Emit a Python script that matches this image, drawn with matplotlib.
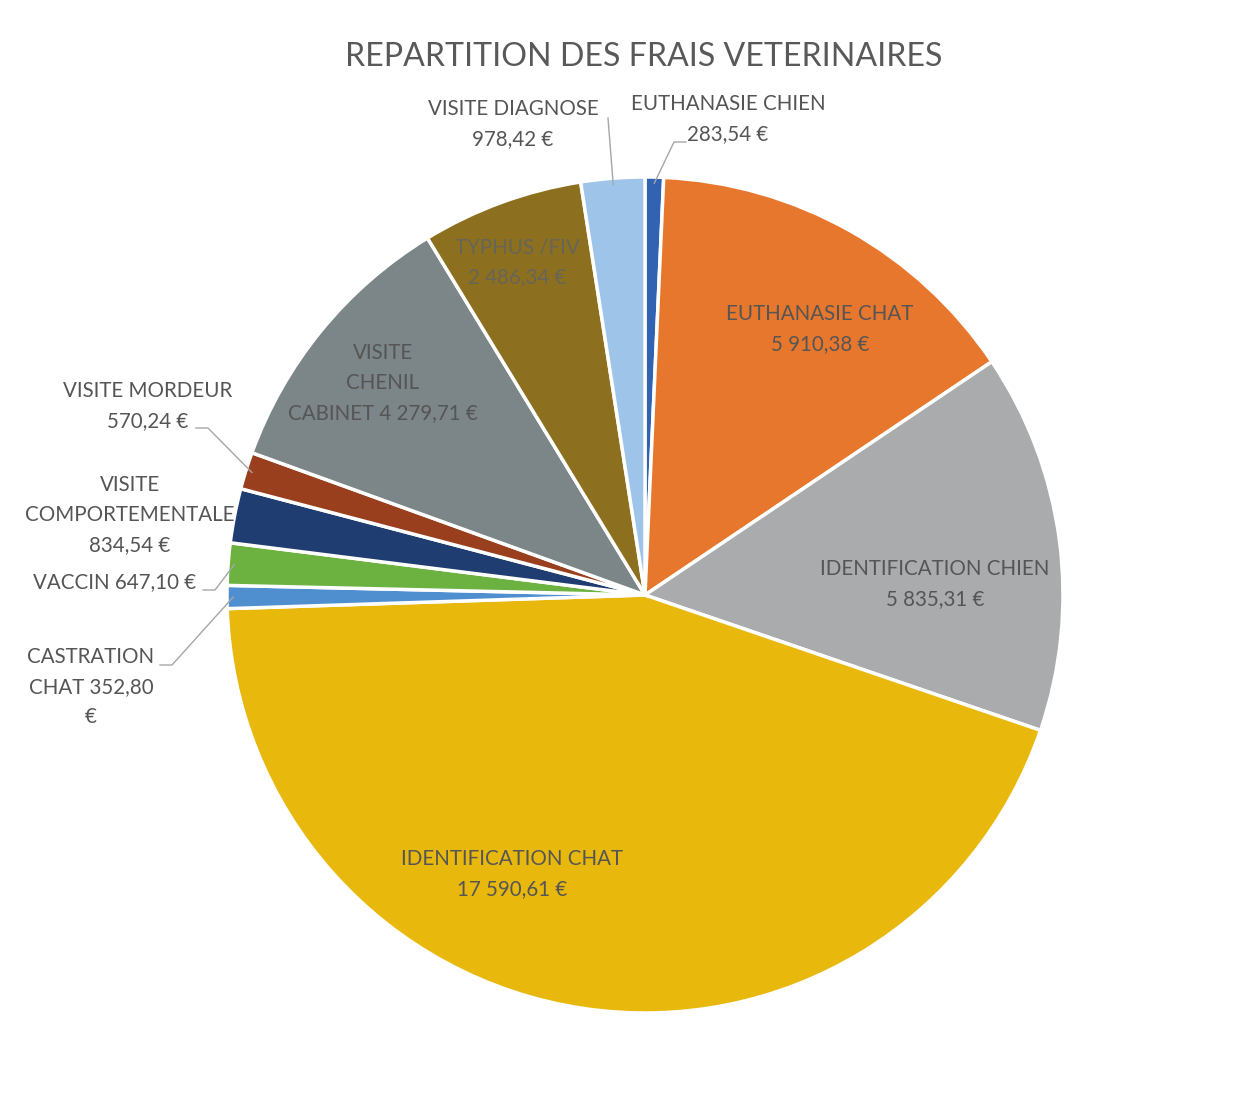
import numpy as np
import matplotlib
matplotlib.use("Agg")
import matplotlib.pyplot as plt

# ---- data ----
categories = ["EUTHANASIE CHIEN", "EUTHANASIE CHAT", "IDENTIFICATION CHIEN",
              "IDENTIFICATION CHAT", "CASTRATION CHAT", "VACCIN",
              "VISITE COMPORTEMENTALE", "VISITE MORDEUR",
              "VISITE CHENIL CABINET", "TYPHUS /FIV", "VISITE DIAGNOSE"]
values = [283.54, 5910.38, 5835.31, 17590.61, 352.80, 647.10,
          834.54, 570.24, 4279.71, 2486.34, 978.42]
value_labels = ["283,54 €", "5 910,38 €", "5 835,31 €", "17 590,61 €",
                "352,80 €", "647,10 €", "834,54 €", "570,24 €",
                "4 279,71 €", "2 486,34 €", "978,42 €"]
colors = ["#3262B2", "#E8772E", "#A9ABAC", "#E9B80C", "#4F8FD0", "#6BB240",
          "#1F3D70", "#9A3F1E", "#7C8587", "#8D701F", "#9EC4E9"]
title = "REPARTITION DES FRAIS VETERINAIRES"

W, H = 1251, 1098
fig = plt.figure(figsize=(W / 100, H / 100), dpi=100)
ax = fig.add_axes([0, 0, 1, 1])
ax.set_xlim(0, W)
ax.set_ylim(0, H)
ax.set_aspect("equal")
ax.axis("off")

FONT = ["Lato", "DejaVu Sans"]
TXT = "#555555"
FS = 14.8

cx, cy, R = 645, H - 595, 418
ax.pie(values, colors=colors, startangle=90, counterclock=False,
       center=(cx, cy), radius=R,
       wedgeprops=dict(edgecolor="white", linewidth=2.5))
ax.set_xlim(0, W)
ax.set_ylim(0, H)


def Y(y):
    return H - y


def txt(x, y, s, color=TXT, size=FS):
    ax.text(x, Y(y), s, ha="center", va="center", fontsize=size,
            color=color, family=FONT)


ax.text(644, Y(57), title, ha="center", va="center", fontsize=23.1,
        color="#595959", family=FONT)

# inside labels
txt(820, 314, categories[1]); txt(820, 344, value_labels[1])
txt(935, 569, categories[2]); txt(935, 599, value_labels[2])
txt(512, 859, categories[3]); txt(512, 889, value_labels[3])
txt(383, 353, "VISITE"); txt(383, 383, "CHENIL")
txt(383, 413, "CABINET " + value_labels[8])
txt(517, 247, categories[9], color="#676558"); txt(517, 277, value_labels[9], color="#676558")

# outside labels
txt(728, 104, categories[0]); txt(728, 134, value_labels[0])
txt(513, 109, categories[10]); txt(513, 139, value_labels[10])
txt(148, 391, categories[7]); txt(148, 421, value_labels[7])
txt(130, 485, "VISITE"); txt(130, 515, "COMPORTEMENTALE"); txt(130, 545, value_labels[6])
txt(115, 582, categories[5] + " " + value_labels[5])
txt(91, 657, "CASTRATION"); txt(91, 687, "CHAT 352,80"); txt(91, 717, "€")

# leader lines to wedge mid-angles
total = float(np.sum(values))
cum = np.cumsum(values)
mids = np.deg2rad(90 - (cum - np.array(values) / 2) / total * 360)


def edge(i, f=0.985):
    return cx + R * f * np.cos(mids[i]), cy + R * f * np.sin(mids[i])


def leader(i, pts):
    ex, ey = edge(i)
    xs = [p[0] for p in pts] + [ex]
    ys = [Y(p[1]) for p in pts] + [ey]
    ax.plot(xs, ys, color="#A6A6A6", linewidth=1.0)


leader(0, [(686, 142), (674, 142)])
leader(10, [(608, 118)])
leader(7, [(196, 428), (208, 428)])
leader(5, [(203, 590), (215, 590)])
leader(4, [(160, 665), (172, 665)])

fig.savefig("out.png", dpi=100, facecolor="white")
